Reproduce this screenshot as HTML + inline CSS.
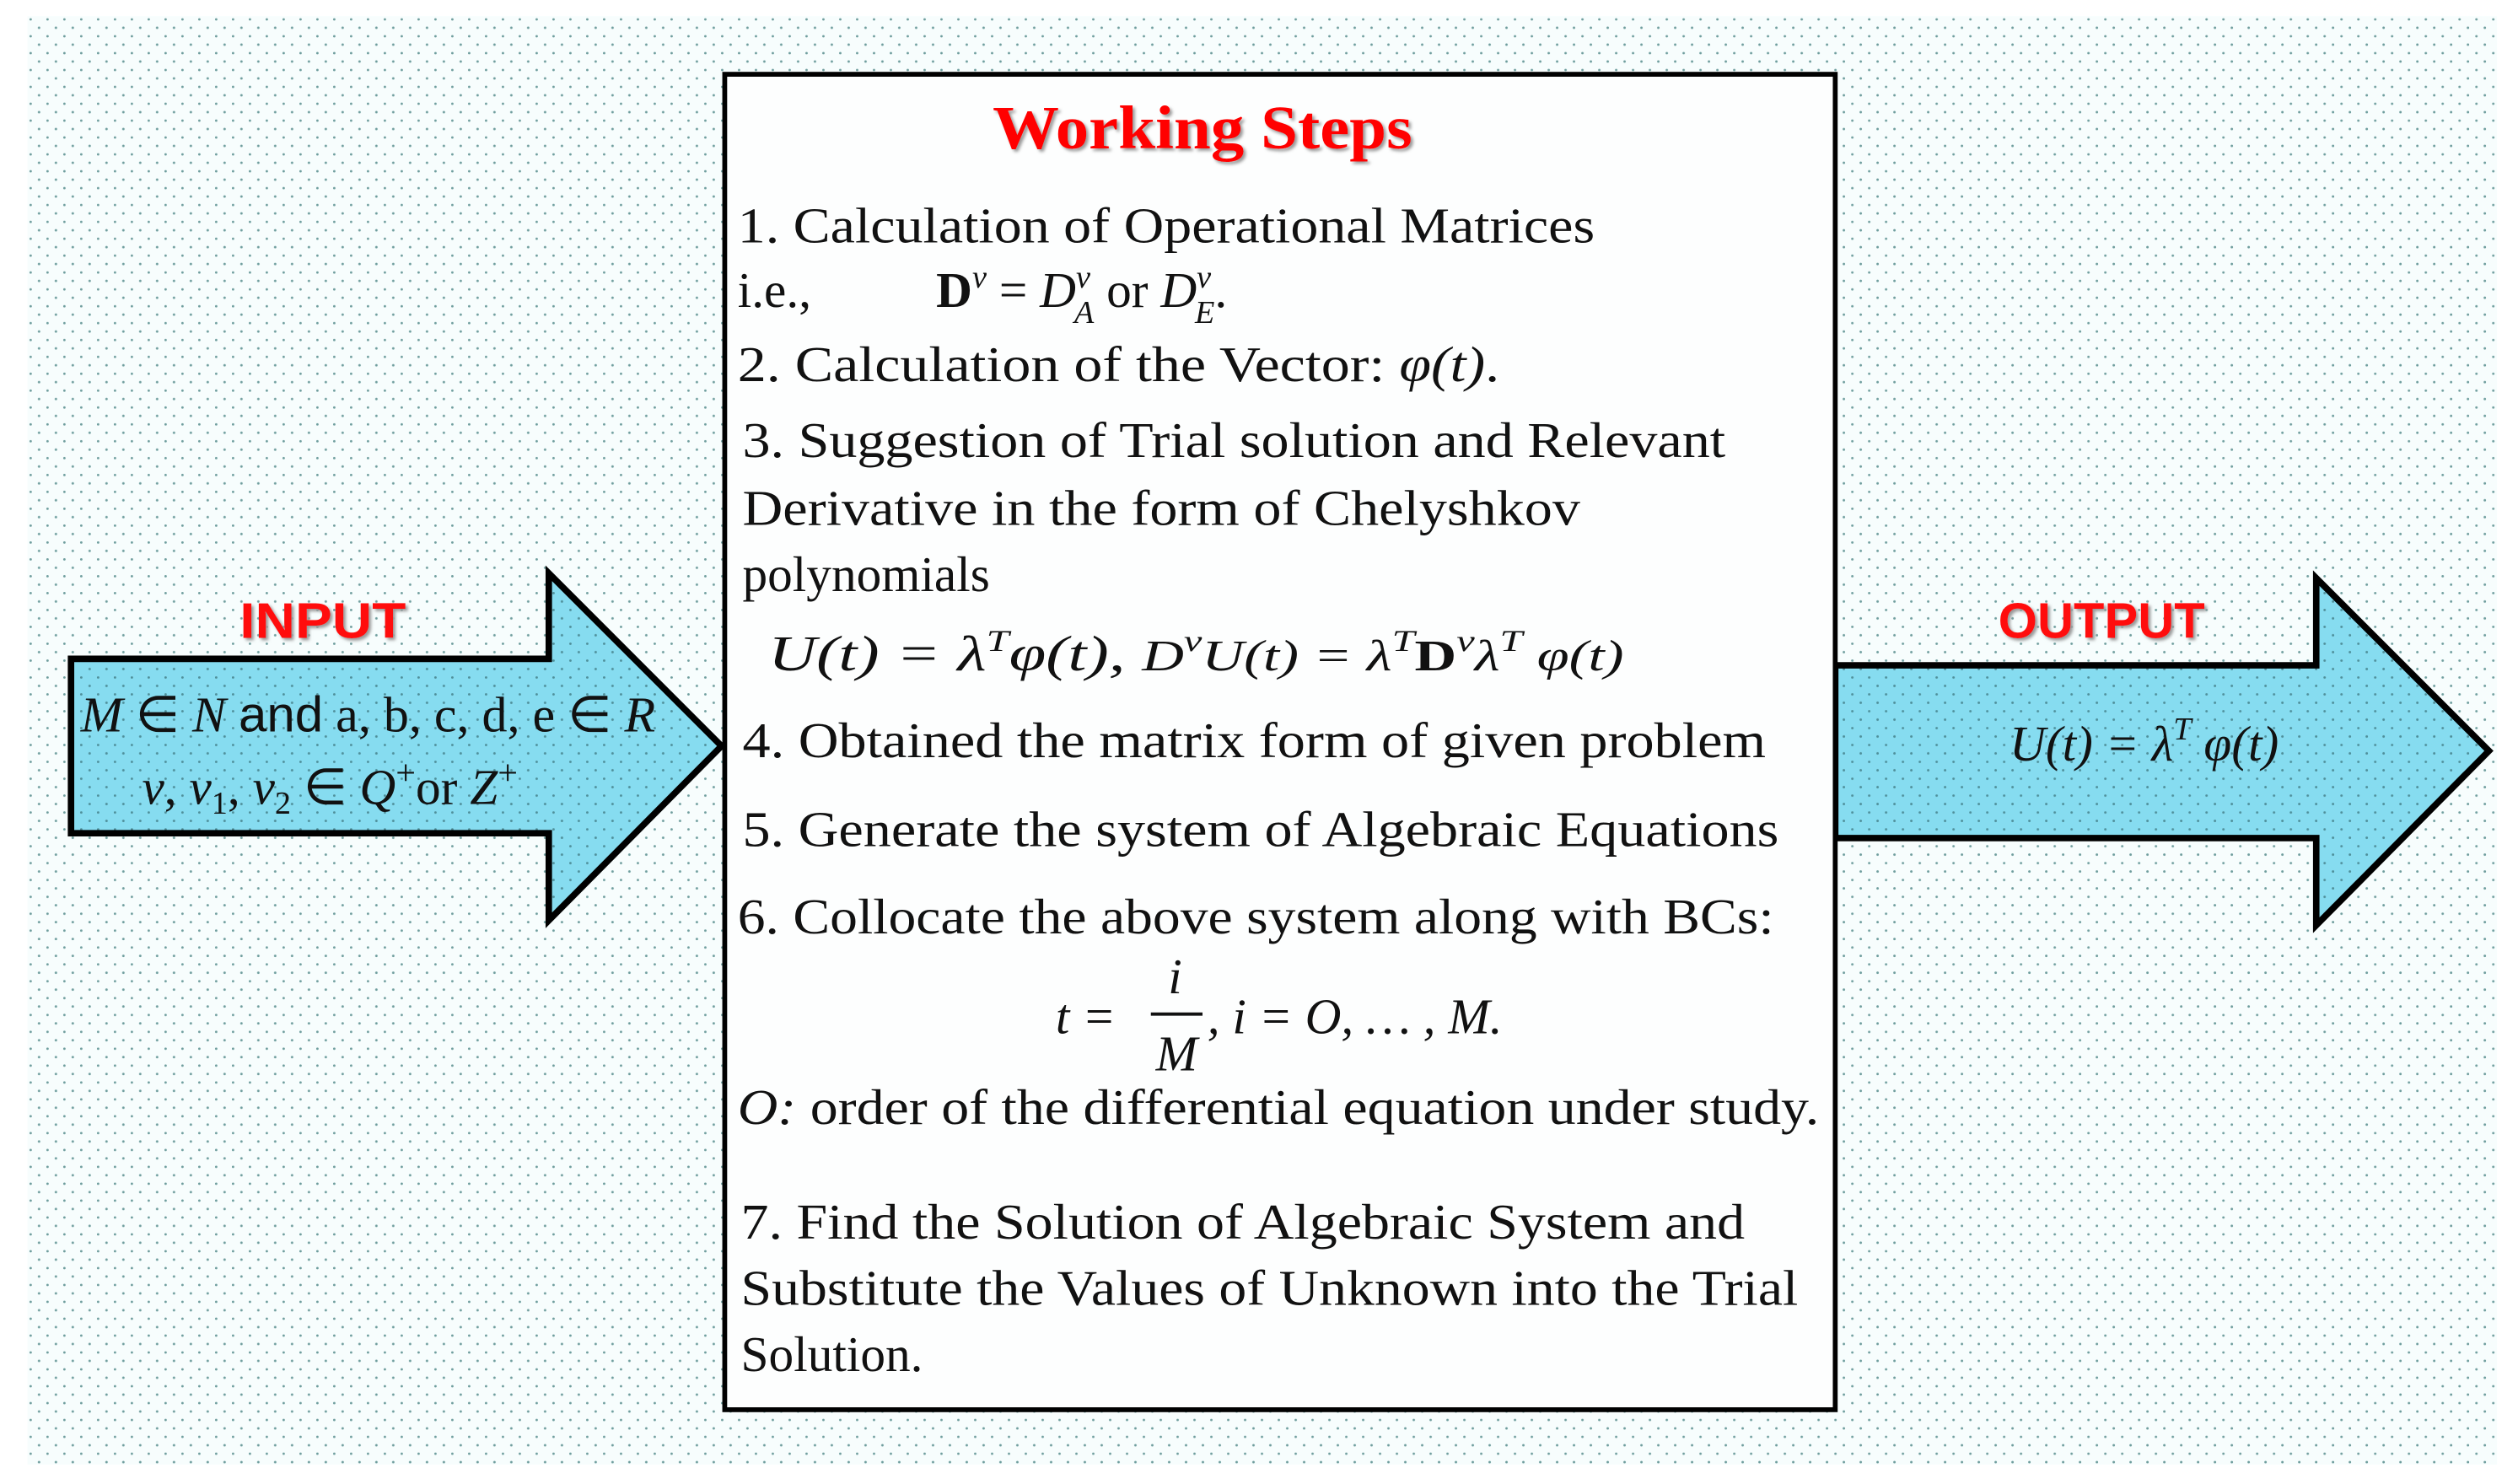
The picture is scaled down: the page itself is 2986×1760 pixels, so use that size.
<!DOCTYPE html>
<html><head><meta charset="utf-8"><style>
html,body{margin:0;padding:0;background:#fff;}
svg{display:block;}
.s{font-family:"Liberation Serif",serif;font-size:31px;fill:#111;}
.i{font-style:italic;}
</style></head><body>
<svg width="2986" height="1760" viewBox="0 0 1560 919" preserveAspectRatio="none" xmlns="http://www.w3.org/2000/svg">
<defs>
<pattern id="dots" x="17" y="10" width="10.45" height="10.45" patternUnits="userSpaceOnUse">
<rect width="10.45" height="10.45" fill="#f7fdfd"/>
<circle cx="2" cy="2" r="0.75" fill="#6f9e9e"/>
<circle cx="7.2" cy="7.2" r="0.75" fill="#6f9e9e"/>
</pattern>
<pattern id="dots2" x="17" y="10" width="10.45" height="10.45" patternUnits="userSpaceOnUse">
<rect width="10.45" height="10.45" fill="#86dcf0"/>
<circle cx="2" cy="2" r="0.75" fill="#4f8f9a"/>
<circle cx="7.2" cy="7.2" r="0.75" fill="#4f8f9a"/>
</pattern>
<filter id="sh"><feDropShadow dx="1.5" dy="1.5" stdDeviation="1" flood-color="#999"/></filter>
</defs>
<rect x="17" y="10" width="1530" height="897" fill="url(#dots)"/>

<!-- input arrow -->
<polygon points="44,408 340,408 340,355 447,462 340,570 340,516 44,516" fill="url(#dots2)" stroke="#000" stroke-width="4" stroke-linejoin="miter"/>
<text x="200" y="395" text-anchor="middle" font-family="Liberation Sans,sans-serif" font-weight="bold" font-size="31" fill="#ff1010" filter="url(#sh)" textLength="103" lengthAdjust="spacingAndGlyphs">INPUT</text>
<text x="50" y="453" class="s" font-size="31" textLength="356" lengthAdjust="spacingAndGlyphs"><tspan class="i">M</tspan> ∈ <tspan class="i">N</tspan> <tspan font-family="Liberation Sans,sans-serif">and</tspan> a, b, c, d, e ∈ <tspan class="i">R</tspan></text>
<text x="88" y="498" class="s" font-size="31"><tspan class="i">ν</tspan>, <tspan class="i">ν</tspan><tspan font-size="20" dy="6">1</tspan><tspan dy="-6">, </tspan><tspan class="i">ν</tspan><tspan font-size="20" dy="6">2</tspan><tspan dy="-6"> ∈ </tspan><tspan class="i">Q</tspan><tspan font-size="22" dy="-12">+</tspan><tspan dy="12">or </tspan><tspan class="i">Z</tspan><tspan font-size="22" dy="-12">+</tspan></text>

<!-- output arrow -->
<polygon points="1137,412 1435,412 1435,358 1542,465 1435,573 1435,519 1137,519" fill="url(#dots2)" stroke="#000" stroke-width="4"/>
<text x="1302" y="395" text-anchor="middle" font-family="Liberation Sans,sans-serif" font-weight="bold" font-size="31" fill="#ff1010" filter="url(#sh)" textLength="128" lengthAdjust="spacingAndGlyphs">OUTPUT</text>
<text x="1245" y="471" class="s i" font-size="33">U(t) = λ<tspan font-size="20" dy="-13">T</tspan><tspan dy="13"> φ(t)</tspan></text>

<!-- center box -->
<rect x="449" y="46" width="688" height="827" fill="#fdfefe" stroke="#000" stroke-width="3"/>
<text x="745" y="92" text-anchor="middle" font-family="Liberation Serif,serif" font-weight="bold" font-size="38" fill="#ff0000" filter="url(#sh)" textLength="260" lengthAdjust="spacingAndGlyphs">Working Steps</text>

<text x="457" y="150" class="s" textLength="531" lengthAdjust="spacingAndGlyphs">1. Calculation of Operational Matrices</text>
<text x="457" y="190" class="s">i.e.,</text>
<text x="580" y="190" class="s"><tspan font-weight="bold">D</tspan><tspan font-size="20" dy="-12" class="i">ν</tspan><tspan dy="12"> = </tspan><tspan class="i">D</tspan><tspan font-size="20" dy="-12" class="i">ν</tspan><tspan font-size="20" dx="-10" dy="22" class="i">A</tspan><tspan dy="-10"> or </tspan><tspan class="i">D</tspan><tspan font-size="20" dy="-12" class="i">ν</tspan><tspan font-size="20" dx="-10" dy="22" class="i">E</tspan><tspan dy="-10">.</tspan></text>
<text x="457" y="236" class="s" textLength="472" lengthAdjust="spacingAndGlyphs">2. Calculation of the Vector: <tspan class="i">φ(t)</tspan>.</text>
<text x="460" y="283" class="s" textLength="609" lengthAdjust="spacingAndGlyphs">3. Suggestion of Trial solution and Relevant</text>
<text x="460" y="325" class="s" textLength="519" lengthAdjust="spacingAndGlyphs">Derivative  in the form of Chelyshkov</text>
<text x="460" y="366" class="s">polynomials</text>
<text x="476" y="415" class="s i" textLength="530" lengthAdjust="spacingAndGlyphs">U(t) = λ<tspan font-size="19" dy="-12">T</tspan><tspan dy="12">φ(t), </tspan><tspan font-size="27">D</tspan><tspan font-size="19" dy="-12">ν</tspan><tspan dy="12" font-size="27">U(t) = λ</tspan><tspan font-size="19" dy="-12">T</tspan><tspan dy="12" font-style="normal" font-weight="bold" font-size="27">D</tspan><tspan font-size="19" dy="-12">ν</tspan><tspan dy="12" font-size="27">λ</tspan><tspan font-size="19" dy="-12">T</tspan><tspan dy="12" font-size="27"> φ(t)</tspan></text>
<text x="460" y="469" class="s" textLength="634" lengthAdjust="spacingAndGlyphs">4. Obtained the matrix form of given  problem</text>
<text x="460" y="524" class="s" textLength="642" lengthAdjust="spacingAndGlyphs">5. Generate the system of Algebraic Equations</text>
<text x="457" y="578" class="s" textLength="642" lengthAdjust="spacingAndGlyphs">6. Collocate the above system along with BCs:</text>
<text x="654" y="640" class="s i">t =</text>
<text x="728" y="615" class="s i" text-anchor="middle">i</text>
<line x1="713" y1="628" x2="745" y2="628" stroke="#111" stroke-width="2"/>
<text x="729" y="663" class="s i" text-anchor="middle">M</text>
<text x="748" y="640" class="s i">, i = O, … , M.</text>
<text x="457" y="696" class="s" textLength="670" lengthAdjust="spacingAndGlyphs"><tspan class="i">O:</tspan> order of the differential equation under study.</text>
<text x="459" y="767" class="s" textLength="622" lengthAdjust="spacingAndGlyphs">7. Find the Solution of Algebraic System and</text>
<text x="459" y="808" class="s" textLength="655" lengthAdjust="spacingAndGlyphs">Substitute the Values of Unknown into the Trial</text>
<text x="459" y="849" class="s">Solution.</text>
</svg>
</body></html>
